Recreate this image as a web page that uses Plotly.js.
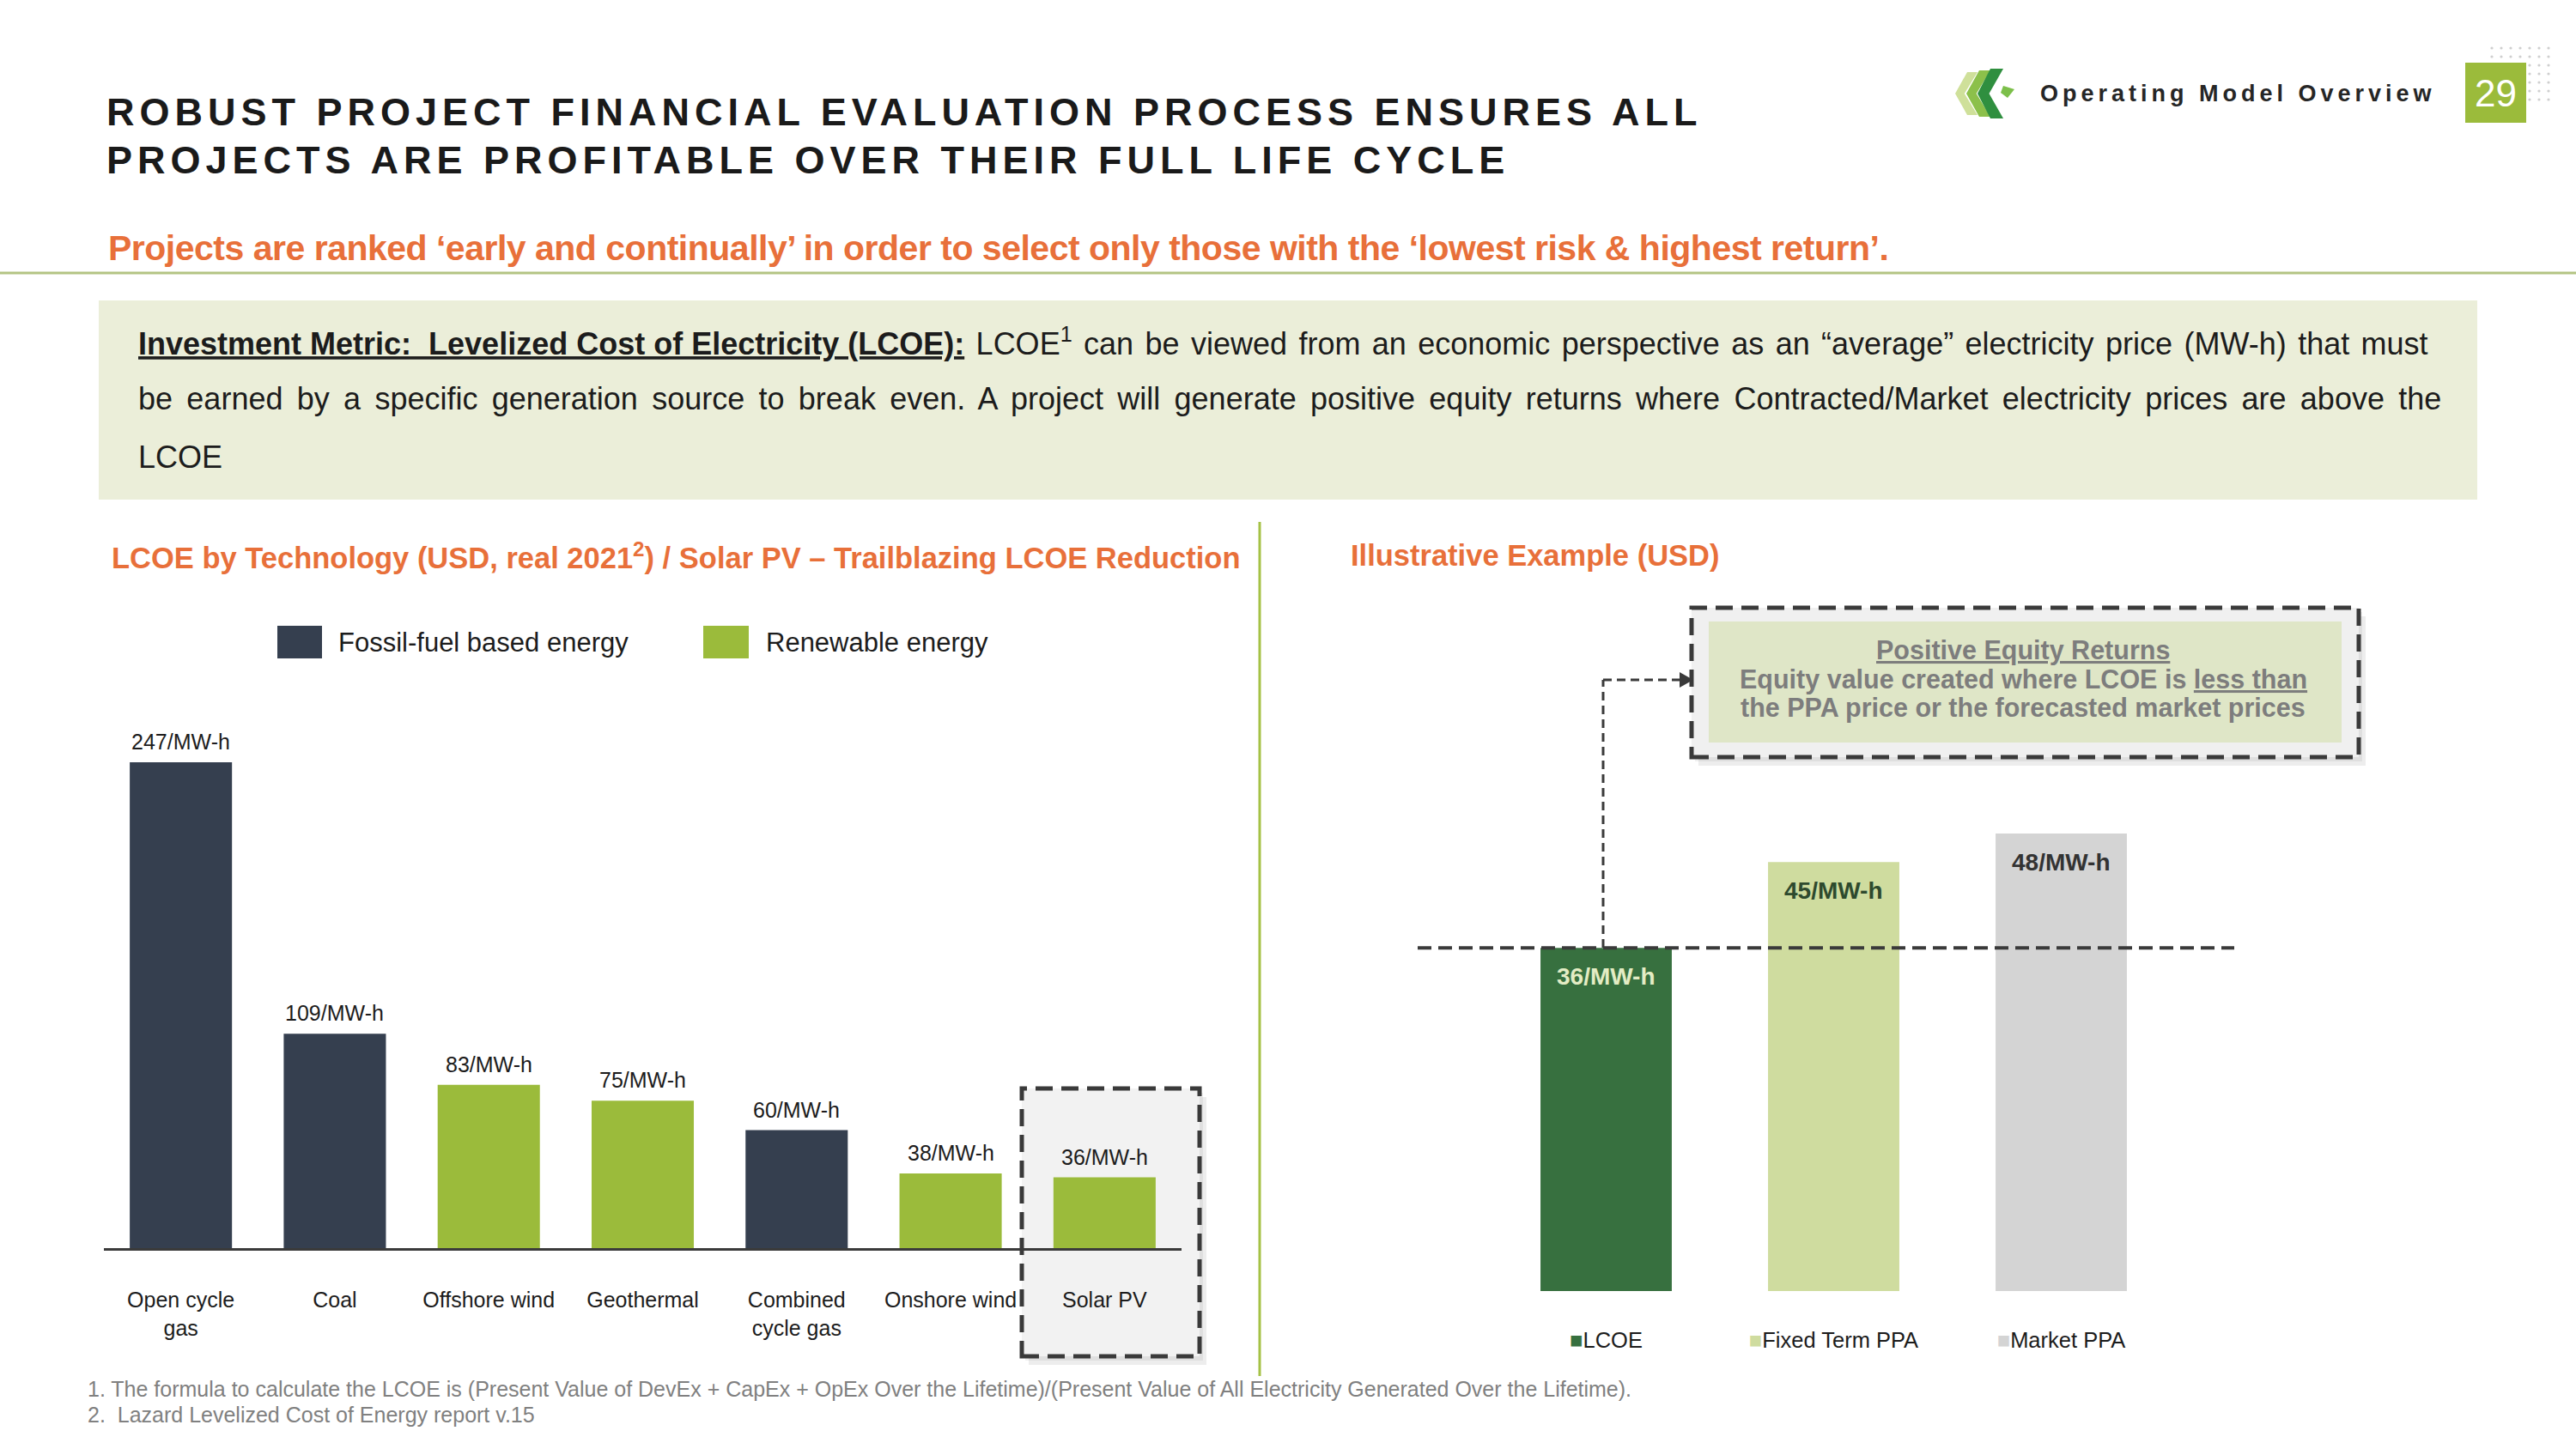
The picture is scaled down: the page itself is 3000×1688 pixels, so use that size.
<!DOCTYPE html>
<html>
<head>
<meta charset="utf-8">
<script src="https://cdn.plot.ly/plotly-3.0.1.min.js"></script>
<style>
html,body{margin:0;padding:0;background:#ffffff;}
#chart{width:3000px;height:1688px;}
</style>
</head>
<body>
<div id="chart"></div>
<script>
// ---------------- DATA ----------------
const techCategories = ['Open cycle gas','Coal','Offshore wind','Geothermal','Combined cycle gas','Onshore wind','Solar PV'];
const techTickLabels = ['Open cycle<br>gas','Coal','Offshore wind','Geothermal','Combined<br>cycle gas','Onshore wind','Solar PV'];
const techLCOE = [247,109,83,75,60,38,36];
const techType = ['fossil','fossil','renewable','renewable','fossil','renewable','renewable'];
const seriesKeys = ['fossil','renewable'];
const seriesNames = ['Fossil-fuel based energy','Renewable energy'];
const exampleCategories = ['LCOE','Fixed Term PPA','Market PPA'];
const exampleValues = [36,45,48];
const unitSuffix = '/MW-h';

// ---------------- STYLE ----------------
const W = 3000, H = 1688;
const px = x => x / W;
const py = y => 1 - y / H;
const FONT = 'Liberation Sans, Arial, Helvetica, sans-serif';
const ORANGE = '#e8703a';
const DARK = '#1c1c1c';
const seriesColors = {fossil:'#353f4f', renewable:'#9bbb3b'};
const exampleColors = ['#37703f','#cfdc9f','#d4d4d4'];
const exampleTextColors = ['#e3ecc4','#2e4a2e','#333333'];
const DASH_COL = '#3a3a3a';

// ---------------- TRACES ----------------
const traces = seriesKeys.map((k, si) => {
  const xs = [], ys = [];
  techCategories.forEach((c, i) => { if (techType[i] === k) { xs.push(c); ys.push(techLCOE[i]); } });
  return {
    type: 'bar', name: seriesNames[si], x: xs, y: ys,
    xaxis: 'x', yaxis: 'y', width: 0.664,
    marker: {color: seriesColors[k], line: {width: 0}},
    hoverinfo: 'x+y', showlegend: false
  };
});
traces.push({
  type: 'bar', name: 'Illustrative example', x: exampleCategories, y: exampleValues,
  xaxis: 'x2', yaxis: 'y2', width: 0.577,
  marker: {color: exampleColors, line: {width: 0}},
  hoverinfo: 'x+y', showlegend: false
});

// ---------------- SHAPES ----------------
const shapes = [];
function rectPx(x0, y0, x1, y1, opts) {
  shapes.push(Object.assign({type: 'rect', xref: 'paper', yref: 'paper',
    x0: px(x0), x1: px(x1), y0: py(y1), y1: py(y0), layer: 'below', line: {width: 0}}, opts || {}));
}
function linePx(x0, y0, x1, y1, line, layer) {
  shapes.push({type: 'line', xref: 'paper', yref: 'paper', x0: px(x0), x1: px(x1), y0: py(y0), y1: py(y1),
    line: line, layer: layer || 'above'});
}
function pathPx(pts, color) {
  const d = pts.map((p, i) => (i ? 'L' : 'M') + px(p[0]).toFixed(5) + ',' + py(p[1]).toFixed(5)).join(' ') + ' Z';
  shapes.push({type: 'path', xref: 'paper', yref: 'paper', path: d, fillcolor: color, line: {width: 0}, layer: 'above'});
}

// header rule
linePx(0, 318, 3000, 318, {color: '#b3c483', width: 3});
// info box
rectPx(115, 350, 2885, 582, {fillcolor: '#ebeed9'});
// vertical separator
linePx(1467, 608, 1467, 1603, {color: '#a5c246', width: 3});

// Solar PV highlight box (left)
rectPx(1198, 1278, 1405, 1590, {fillcolor: 'rgba(0,0,0,0.07)'});
rectPx(1194, 1273, 1401, 1585, {fillcolor: 'rgba(0,0,0,0.06)'});
rectPx(1190, 1268, 1397, 1580, {fillcolor: '#f2f2f2', line: {color: DASH_COL, width: 5, dash: '20px,10px'}});

// left legend squares
rectPx(323, 729, 375, 767, {fillcolor: seriesColors.fossil, layer: 'above'});
rectPx(819, 729, 872, 767, {fillcolor: seriesColors.renewable, layer: 'above'});

// right: LCOE threshold dashed line at the LCOE value
shapes.push({type: 'line', xref: 'paper', yref: 'y2', x0: px(1651), x1: px(2602),
  y0: exampleValues[0], y1: exampleValues[0], line: {color: DASH_COL, width: 4, dash: '16px,8px'}, layer: 'above'});
// connector from LCOE line up to the box
shapes.push({type: 'line', xref: 'paper', yref: 'paper', x0: px(1867), x1: px(1867),
  y0: py(1104), y1: py(792), line: {color: DASH_COL, width: 3, dash: '10px,6px'}, layer: 'above'});
linePx(1867, 792, 1956, 792, {color: DASH_COL, width: 3, dash: '10px,6px'});
pathPx([[1956, 783], [1972, 792], [1956, 801]], DASH_COL);

// Positive equity box
rectPx(1978, 718, 2755, 892, {fillcolor: 'rgba(0,0,0,0.07)'});
rectPx(1974, 713, 2751, 887, {fillcolor: 'rgba(0,0,0,0.06)'});
rectPx(1970, 708, 2747, 882, {fillcolor: '#f0f0f0', line: {color: DASH_COL, width: 5, dash: '20px,10px'}});
rectPx(1990, 724, 2727, 865, {fillcolor: '#dfe6c7'});

// top-right decoration: dots, page box, logo
for (let r = 0; r < 7; r++) {
  for (let c = 0; c < 7; c++) {
    const cx = 2902 + c * 11, cy = 56 + r * 10;
    shapes.push({type: 'circle', xref: 'paper', yref: 'paper', x0: px(cx - 1.6), x1: px(cx + 1.6),
      y0: py(cy + 1.6), y1: py(cy - 1.6), fillcolor: '#cfcfcf', line: {width: 0}, layer: 'above'});
  }
}
rectPx(2871, 73, 2942, 143, {fillcolor: '#9bbb3b', layer: 'above'});
// logo chevrons
function chevron(x, y0, w, h, t, color) {
  pathPx([[x + w, y0], [x + w - t, y0], [x, y0 + h / 2], [x + w - t, y0 + h], [x + w, y0 + h], [x + t * 0.9, y0 + h / 2]], color);
}
chevron(2277, 84, 26, 50, 12, '#cfe09a');
chevron(2290, 82, 28, 54, 13, '#8cc04a');
chevron(2303, 80, 30, 58, 15, '#2f8f3f');
pathPx([[2333, 100], [2346, 104], [2338, 114], [2330, 108]], '#7cbf4a');

// ---------------- ANNOTATIONS ----------------
const annotations = [];
function txt(text, x, y, size, opts) {
  opts = opts || {};
  const font = Object.assign({family: FONT, size: size, color: DARK}, opts.font || {});
  const a = {text: text, xref: 'paper', yref: 'paper', x: px(x), y: py(y),
    xanchor: opts.xanchor || 'left', yanchor: 'middle', showarrow: false, align: opts.align || 'left', font: font};
  annotations.push(a);
}
const sp = (t, style) => '<span style="' + style + '">' + t + '</span>';

txt(sp('ROBUST PROJECT FINANCIAL EVALUATION PROCESS ENSURES ALL', 'letter-spacing:6px'), 122, 131, 45, {font: {weight: 'bold', color: '#1a1a1a'}});
txt(sp('PROJECTS ARE PROFITABLE OVER THEIR FULL LIFE CYCLE', 'letter-spacing:6px'), 122, 187, 45, {font: {weight: 'bold', color: '#1a1a1a'}});
txt(sp('Projects are ranked ‘early and continually’ in order to select only those with the ‘lowest risk &amp; highest return’.', 'letter-spacing:-0.5px'), 124, 289, 41, {font: {weight: 'bold', color: ORANGE}});
txt(sp('Operating Model Overview', 'letter-spacing:5px'), 2374, 109, 27, {font: {weight: 'bold', color: '#262626'}});
txt('29', 2906.5, 109, 44, {xanchor: 'center', font: {color: '#ffffff'}});

txt('<b><u>Investment Metric: \u00a0Levelized Cost of Electricity (LCOE):</u></b>' +
    sp(' LCOE<sup>1</sup> can be viewed from an economic perspective as an “average” electricity price (MW-h) that must', 'word-spacing:3.4px'),
    159, 398, 36);
txt(sp('be earned by a specific generation source to break even. A project will generate positive equity returns where Contracted/Market electricity prices are above the', 'word-spacing:6.3px'), 159, 465, 36);
txt('LCOE', 159, 532, 36);

txt('LCOE by Technology (USD, real 2021<sup>2</sup>) / Solar PV – Trailblazing LCOE Reduction', 128, 647, 34.5, {font: {weight: 'bold', color: ORANGE}});
txt('Illustrative Example (USD)', 1571, 647, 34.5, {font: {weight: 'bold', color: ORANGE}});

txt(seriesNames[0], 392, 748, 31);
txt(seriesNames[1], 890, 748, 31);

txt('<u>Positive Equity Returns</u>', 2356, 757, 30.5, {xanchor: 'center', align: 'center', font: {weight: 'bold', color: '#7d7d7d'}});
txt('Equity value created where LCOE is <u>less than</u>', 2356, 791, 30.5, {xanchor: 'center', align: 'center', font: {weight: 'bold', color: '#7d7d7d'}});
txt('the PPA price or the forecasted market prices', 2356, 824, 30.5, {xanchor: 'center', align: 'center', font: {weight: 'bold', color: '#7d7d7d'}});

txt('1. The formula to calculate the LCOE is (Present Value of DevEx + CapEx + OpEx Over the Lifetime)/(Present Value of All Electricity Generated Over the Lifetime).', 100, 1618, 25, {font: {color: '#808080'}});
txt('2. \u00a0Lazard Levelized Cost of Energy report v.15', 100, 1648, 25, {font: {color: '#808080'}});

// value labels on bars (data-driven)
techCategories.forEach((c, i) => {
  annotations.push({xref: 'x', yref: 'y', x: c, y: techLCOE[i], text: techLCOE[i] + unitSuffix,
    showarrow: false, yanchor: 'bottom', yshift: 8, font: {family: FONT, size: 25, color: DARK}});
});
exampleCategories.forEach((c, i) => {
  annotations.push({xref: 'x2', yref: 'y2', x: c, y: exampleValues[i], text: exampleValues[i] + unitSuffix,
    showarrow: false, yanchor: 'top', yshift: -16, font: {family: FONT, size: 28, weight: 'bold', color: exampleTextColors[i]}});
});

// ---------------- LAYOUT ----------------
const layout = {
  width: W, height: H,
  margin: {l: 0, r: 0, t: 0, b: 0},
  paper_bgcolor: '#ffffff', plot_bgcolor: 'rgba(0,0,0,0)',
  barmode: 'overlay', showlegend: false,
  font: {family: FONT, color: DARK},
  xaxis: {
    domain: [px(121), px(1376)], anchor: 'y', type: 'category',
    categoryorder: 'array', categoryarray: techCategories,
    tickvals: techCategories, ticktext: techTickLabels,
    range: [-0.5, 6.5], fixedrange: true,
    showline: true, linecolor: '#3a3a3a', linewidth: 3,
    showgrid: false, zeroline: false, ticks: '',
    tickfont: {family: FONT, size: 25, color: DARK}, ticklabelstandoff: 36
  },
  yaxis: {
    domain: [py(1454), py(800)], anchor: 'x', range: [0, 654 / 2.2915],
    visible: false, fixedrange: true
  },
  xaxis2: {
    domain: [px(1738), px(2533)], anchor: 'y2', type: 'category',
    categoryorder: 'array', categoryarray: exampleCategories,
    tickvals: exampleCategories,
    ticktext: exampleCategories.map((c, i) => '<span style="color:' + exampleColors[i] + '">■</span>' + c),
    range: [-0.5, 2.5], fixedrange: true,
    showline: false, showgrid: false, zeroline: false, ticks: '',
    tickfont: {family: FONT, size: 25.5, color: DARK}, ticklabelstandoff: 39
  },
  yaxis2: {
    domain: [py(1504), py(904)], anchor: 'x2', range: [0, 600 / 11.106],
    visible: false, fixedrange: true
  },
  shapes: shapes,
  annotations: annotations
};

Plotly.newPlot('chart', traces, layout, {staticPlot: true, displayModeBar: false});
</script>
</body>
</html>
